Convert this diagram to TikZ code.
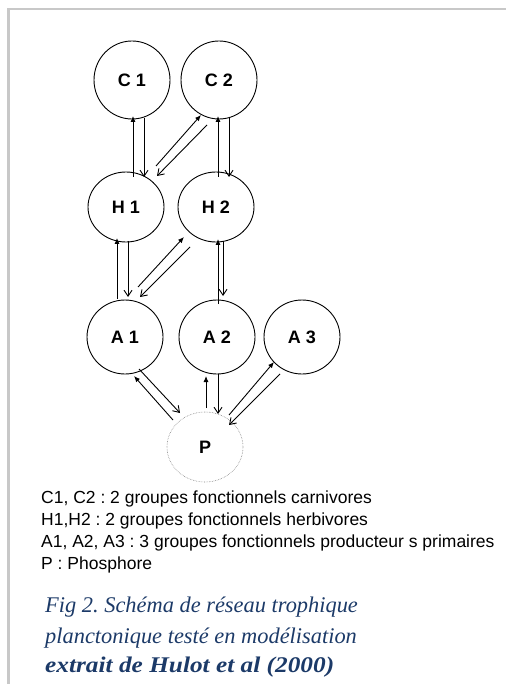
\documentclass[tikz,border=0pt]{standalone}
\usepackage{fontspec}
\setmainfont{Liberation Sans}
\newfontfamily\capfont{Liberation Serif}
\usetikzlibrary{shapes.geometric,arrows.meta,calc}
\definecolor{capblue}{RGB}{28,58,104}
\definecolor{framegray}{RGB}{200,200,200}
\frenchspacing
\tikzset{
  grp/.style={ellipse,draw,line width=0.9pt,inner sep=0pt,minimum width=76pt,font=\bfseries\fontsize{18}{20}\selectfont},
  upar/.style={line width=0.9pt,-{Latex[length=6pt,width=5pt]}},
  dnar/.style={line width=0.9pt,-{Straight Barb[length=6pt,width=8pt]}},
  legend/.style={anchor=base west,inner sep=0pt,font=\fontsize{17.5}{20}\selectfont},
  captxt/.style={anchor=base west,inner sep=0pt,text=capblue,font=\capfont\itshape\fontsize{22.4}{26}\selectfont}
}
\begin{document}
\begin{tikzpicture}[x=1pt,y=-1pt]
\useasboundingbox (0,0) rectangle (506,684);
\draw[framegray,line width=2.5pt] (8.5,684) coordinate (f1) -- (8.5,9) coordinate (f2) -- (506,9) coordinate (f3);
% nodes
\node[grp,minimum height=78pt] (C1) at (132,80) {C 1};
\node[grp,minimum height=78pt] (C2) at (219,80) {C 2};
\node[grp,minimum height=70pt] (H1) at (126,207) {H 1};
\node[grp,minimum height=70pt] (H2) at (216,207) {H 2};
\node[grp,minimum height=74pt] (A1) at (125,337) {A 1};
\node[grp,minimum height=74pt] (A2) at (217,337) {A 2};
\node[grp,minimum height=74pt] (A3) at (302,337) {A 3};
\node[grp,minimum height=70pt,draw=gray,line width=0.6pt,densely dotted] (P) at (205,447) {P};
% connectors
\draw[upar] ($(H1)+(7,-30)$) -- ($(C1)+(1,36)$);
\draw[dnar] ($(C1)+(12,38)$) -- ($(H1)+(18,-30)$);
\draw[upar] ($(H2)+(2,-30)$) -- ($(C2)+(-1,36)$);
\draw[dnar] ($(C2)+(10,38)$) -- ($(H2)+(13,-30)$);
\draw[upar] ($(H1)+(30,-41)$) -- ($(C2)+(-18,35)$);
\draw[dnar] ($(C2)+(-12,45)$) -- ($(H1)+(31,-31)$);
\draw[upar] ($(A1)+(-8,-38)$) -- ($(H1)+(-9,31)$);
\draw[dnar] ($(H1)+(2,34)$) -- ($(A1)+(3,-40)$);
\draw[upar] ($(A1)+(13,-50)$) -- ($(H2)+(-32,30)$);
\draw[dnar] ($(H2)+(-26,40)$) -- ($(A1)+(15,-40)$);
\draw[upar] ($(A2)+(1,-33)$) -- ($(H2)+(2,32)$);
\draw[dnar] ($(H2)+(7,34)$) -- ($(A2)+(6,-41)$);
\draw[upar] ($(P)+(-32,-27)$) -- ($(A1)+(9,39)$);
\draw[dnar] ($(A1)+(14,32)$) -- ($(P)+(-25,-34)$);
\draw[upar] ($(P)+(1,-39)$) -- ($(A2)+(-11,39)$);
\draw[dnar] ($(A2)+(1,37)$) -- ($(P)+(13,-33)$);
\draw[upar] ($(P)+(24,-32)$) -- ($(A3)+(-28,25)$);
\draw[dnar] ($(A3)+(-22,37)$) -- ($(P)+(24,-22)$);
% legend
\node[legend] (L1) at (41,503) {C1, C2 : 2 groupes fonctionnels carnivores};
\node[legend] (L2) at (41,525) {H1,H2 : 2 groupes fonctionnels herbivores};
\node[legend] (L3) at (41,547) {A1, A2, A3 : 3 groupes fonctionnels producteur s primaires};
\node[legend] (L4) at (41,569) {P : Phosphore};
% caption
\node[captxt] (T1) at (45,612) {Fig 2. Schéma de réseau trophique};
\node[captxt] (T2) at (45,643) {planctonique testé en modélisation};
\node[captxt,font=\capfont\itshape\bfseries\fontsize{22.4}{26}\selectfont] (T3) at (45,672) {\scalebox{1.13}[1]{extrait de Hulot et al (2000)}};
\end{tikzpicture}
\end{document}
